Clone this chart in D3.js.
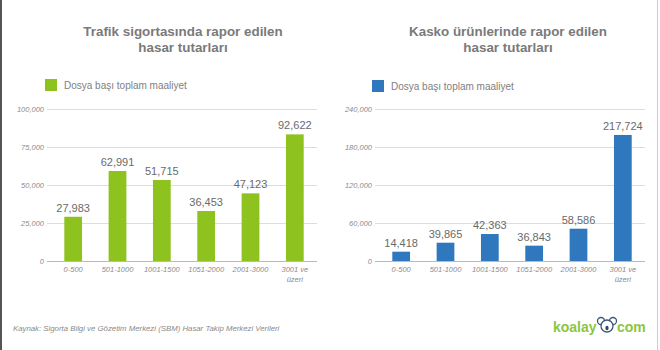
<!DOCTYPE html>
<html>
<head>
<meta charset="utf-8">
<script src="https://cdn.jsdelivr.net/npm/d3@7/dist/d3.min.js"></script>
<style>
  html, body { margin: 0; padding: 0; background: #fff; }
  svg { display: block; }
  text { font-family: "Liberation Sans", Arial, sans-serif; }
</style>
</head>
<body>
<svg id="chart" width="660" height="350"></svg>
<script>
// ---- data ----
const categories = ["0-500", "501-1000", "1001-1500", "1051-2000", "2001-3000", "3001 ve\nüzeri"];
const trafikValues = [29100, 59200, 53300, 32900, 44500, 83300];
const trafikLabels = ["27,983", "62,991", "51,715", "36,453", "47,123", "92,622"];
const trafikTicks = [0, 25000, 50000, 75000, 100000];
const kaskoValues = [14700, 28900, 42600, 24200, 51000, 199000];
const kaskoLabels = ["14,418", "39,865", "42,363", "36,843", "58,586", "217,724"];
const kaskoTicks = [0, 60000, 120000, 180000, 240000];
const legendLabel = "Dosya başı toplam maaliyet";
const titles = [["Trafik sigortasında rapor edilen", "hasar tutarları"],
                ["Kasko ürünlerinde rapor edilen", "hasar tutarları"]];
const sourceText = "Kaynak: Sigorta Bilgi ve Gözetim Merkezi (SBM) Hasar Takip Merkezi Verileri";

const svg = d3.select("#chart");
const fmt = d3.format(",");

// borders
svg.append("rect").attr("x", 0).attr("y", 0).attr("width", 2).attr("height", 350).attr("fill", "#555");
svg.append("rect").attr("x", 657).attr("y", 0).attr("width", 1).attr("height", 350).attr("fill", "#ccc");

function panel(cfg) {
  const g = svg.append("g");
  // title
  const t = g.append("text").attr("text-anchor", "middle")
    .attr("font-size", 13.4).attr("font-weight", "bold").attr("fill", "#7a7a7a");
  cfg.title.forEach((line, i) => {
    t.append("tspan").attr("x", cfg.titleX).attr("y", 36 + i * 16).text(line);
  });
  // legend
  g.append("rect").attr("x", cfg.legX).attr("y", cfg.legY).attr("width", 12).attr("height", 12).attr("fill", cfg.color);
  g.append("text").attr("x", cfg.legX + 19).attr("y", cfg.legY + 9.5)
    .attr("font-size", 10).attr("fill", "#808080").text(legendLabel);

  const x = d3.scaleBand().domain(categories).range([cfg.x0, cfg.x1])
    .paddingInner(0.6).paddingOuter(0.3);
  const y = d3.scaleLinear().domain([0, cfg.ticks[cfg.ticks.length - 1]]).range([261, 109]);

  // grid + axis
  const yAxis = d3.axisLeft(y).tickValues(cfg.ticks).tickFormat(fmt)
    .tickSize(-(cfg.gridX1 - cfg.gridX0)).tickPadding(3);
  const ga = g.append("g").attr("transform", `translate(${cfg.gridX0},0)`).call(yAxis);
  ga.select(".domain").remove();
  ga.selectAll(".tick line").attr("stroke", d => d === 0 ? "#bbb" : "#ddd");
  ga.selectAll(".tick text").attr("font-size", 7.5).attr("font-style", "italic")
    .attr("fill", "#8a8a8a").attr("font-family", "Liberation Sans, Arial, sans-serif");

  // bars
  g.selectAll(".bar").data(cfg.values).join("rect")
    .attr("x", (d, i) => x(categories[i]))
    .attr("y", d => y(d))
    .attr("width", x.bandwidth())
    .attr("height", d => y(0) - y(d))
    .attr("fill", cfg.color);

  // value labels
  g.selectAll(".vl").data(cfg.values).join("text")
    .attr("x", (d, i) => x(categories[i]) + x.bandwidth() / 2)
    .attr("y", d => y(d) - 5)
    .attr("text-anchor", "middle").attr("font-size", 11).attr("fill", "#6a6a6a")
    .text((d, i) => cfg.labels[i]);

  // category labels
  categories.forEach(c => {
    const tt = g.append("text").attr("text-anchor", "middle")
      .attr("font-size", 7.5).attr("font-style", "italic").attr("fill", "#8a8a8a");
    c.split("\n").forEach((line, j) => {
      tt.append("tspan").attr("x", x(c) + x.bandwidth() / 2).attr("y", 272 + j * 10).text(line);
    });
  });
}

panel({ title: titles[0], titleX: 183, legX: 45, legY: 79, color: "#8dc21f",
  x0: 51, x1: 317, gridX0: 47, gridX1: 317, values: trafikValues, labels: trafikLabels, ticks: trafikTicks });
panel({ title: titles[1], titleX: 508, legX: 372, legY: 80, color: "#2f78bd",
  x0: 379, x1: 645, gridX0: 375, gridX1: 645, values: kaskoValues, labels: kaskoLabels, ticks: kaskoTicks });

// footer
svg.append("text").attr("x", 13).attr("y", 331).attr("font-size", 7.8).attr("font-style", "italic")
  .attr("fill", "#8a8a8a").text(sourceText);

// logo
const logo = svg.append("g");
logo.append("text").attr("x", 553).attr("y", 332).attr("font-size", 14).attr("font-weight", "bold")
  .attr("fill", "#8cc63e").text("koalay");
logo.append("text").attr("x", 617).attr("y", 332).attr("font-size", 14).attr("font-weight", "bold")
  .attr("fill", "#8cc63e").text("com");
const k = logo.append("g").attr("fill", "#fff").attr("stroke", "#3b5878").attr("stroke-width", 1.3);
k.append("circle").attr("cx", 601).attr("cy", 321).attr("r", 3.5);
k.append("circle").attr("cx", 613).attr("cy", 321).attr("r", 3.5);
k.append("circle").attr("cx", 607).attr("cy", 326).attr("r", 6);
logo.append("ellipse").attr("cx", 607).attr("cy", 328).attr("rx", 1.6).attr("ry", 2.2).attr("fill", "#2c4a6a");
</script>
</body>
</html>
